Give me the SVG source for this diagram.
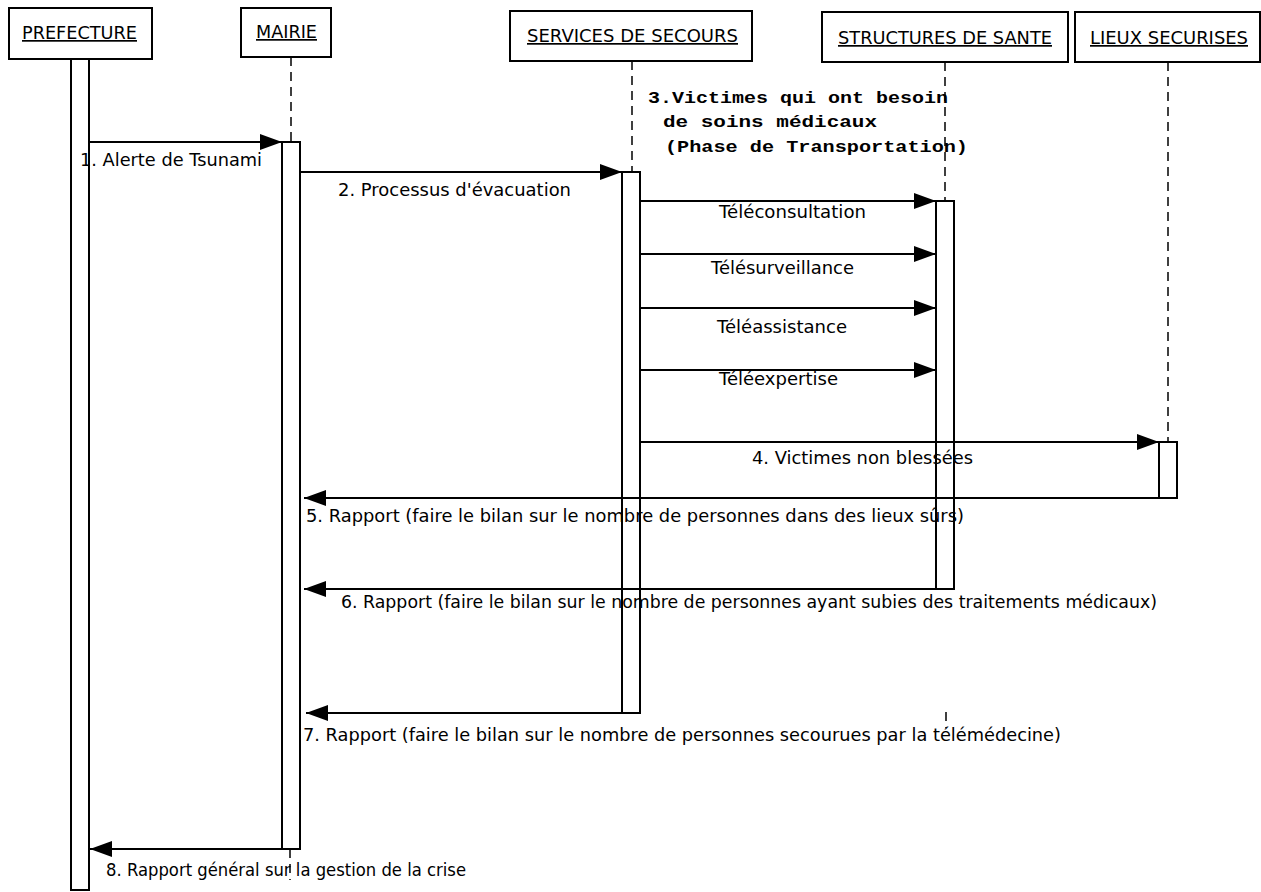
<svg xmlns="http://www.w3.org/2000/svg" width="1261" height="892" viewBox="0 0 1261 892">
<style>
.box{fill:#fff;stroke:#000;stroke-width:2}
.bar{fill:#fff;stroke:#000;stroke-width:2}
.life{stroke:#000;stroke-width:1.5;stroke-dasharray:9,6;fill:none}
.msg{stroke:#000;stroke-width:2;fill:none}
.hd{font-family:"DejaVu Sans",sans-serif;font-size:17px;fill:#000;text-decoration:underline}
.lb{font-family:"DejaVu Sans",sans-serif;font-size:17px;fill:#000}
.nt{font-family:"Liberation Mono",monospace;font-size:16px;font-weight:bold;fill:#000}
</style>
<defs>
<marker id="ah" viewBox="0 0 22 16" refX="22" refY="8" markerWidth="22" markerHeight="16" markerUnits="userSpaceOnUse" orient="auto">
<path d="M0,0 L22,8 L0,16 Z" fill="#000"/>
</marker>
</defs>
<g id="prefecture">
<rect class="box" x="9" y="8" width="143" height="51"/>
<text class="hd" x="22" y="39" textLength="115" lengthAdjust="spacingAndGlyphs">PREFECTURE</text>
<rect class="bar" x="71" y="59" width="18" height="831"/>
</g>
<g id="mairie">
<rect class="box" x="241" y="8" width="90" height="49"/>
<text class="hd" x="256" y="38" textLength="61" lengthAdjust="spacingAndGlyphs">MAIRIE</text>
<line class="life" x1="291" y1="57" x2="291" y2="142"/>
<rect class="bar" x="282" y="142" width="18" height="707"/>
<line class="life" x1="290" y1="849" x2="290" y2="880"/>
</g>
<g id="secours">
<rect class="box" x="510" y="11" width="242" height="50"/>
<text class="hd" x="527" y="42" textLength="211" lengthAdjust="spacingAndGlyphs">SERVICES DE SECOURS</text>
<line class="life" x1="632" y1="61" x2="632" y2="172"/>
<rect class="bar" x="622" y="172" width="18" height="541"/>
</g>
<g id="sante">
<rect class="box" x="822" y="12" width="246" height="50"/>
<text class="hd" x="838" y="44" textLength="214" lengthAdjust="spacingAndGlyphs">STRUCTURES DE SANTE</text>
<line class="life" x1="945" y1="62" x2="945" y2="201"/>
<rect class="bar" x="936" y="201" width="18" height="388"/>
<line class="life" x1="946" y1="712" x2="946" y2="728"/>
</g>
<g id="lieux">
<rect class="box" x="1075" y="12" width="185" height="50"/>
<text class="hd" x="1090" y="44" textLength="158" lengthAdjust="spacingAndGlyphs">LIEUX SECURISES</text>
<line class="life" x1="1168" y1="62" x2="1168" y2="442"/>
<rect class="bar" x="1159" y="442" width="18" height="56"/>
</g>
<g id="connectors">
<line class="msg" x1="89" y1="142" x2="282" y2="142" marker-end="url(#ah)"/>
<line class="msg" x1="300" y1="172" x2="622" y2="172" marker-end="url(#ah)"/>
<line class="msg" x1="640" y1="201" x2="936" y2="201" marker-end="url(#ah)"/>
<line class="msg" x1="640" y1="254" x2="936" y2="254" marker-end="url(#ah)"/>
<line class="msg" x1="640" y1="308" x2="936" y2="308" marker-end="url(#ah)"/>
<line class="msg" x1="640" y1="370" x2="936" y2="370" marker-end="url(#ah)"/>
<line class="msg" x1="640" y1="442" x2="1159" y2="442" marker-end="url(#ah)"/>
<line class="msg" x1="1159" y1="498" x2="304" y2="498" marker-end="url(#ah)"/>
<line class="msg" x1="936" y1="589" x2="304" y2="589" marker-end="url(#ah)"/>
<line class="msg" x1="622" y1="713" x2="306" y2="713" marker-end="url(#ah)"/>
<line class="msg" x1="282" y1="849" x2="90" y2="849" marker-end="url(#ah)"/>
</g>
<g id="labels">
<text class="lb" x="80" y="166" textLength="182" lengthAdjust="spacingAndGlyphs">1. Alerte de Tsunami</text>
<text class="lb" x="338" y="196" textLength="233" lengthAdjust="spacingAndGlyphs">2. Processus d'évacuation</text>
<text class="nt" x="648" y="103" textLength="300" lengthAdjust="spacingAndGlyphs">3.Victimes qui ont besoin</text>
<text class="nt" x="663" y="127" textLength="214" lengthAdjust="spacingAndGlyphs">de soins médicaux</text>
<text class="nt" x="665" y="152" textLength="303" lengthAdjust="spacingAndGlyphs">(Phase de Transportation)</text>
<text class="lb" x="719" y="218" textLength="147" lengthAdjust="spacingAndGlyphs">Téléconsultation</text>
<text class="lb" x="711" y="274" textLength="143" lengthAdjust="spacingAndGlyphs">Télésurveillance</text>
<text class="lb" x="717" y="333" textLength="130" lengthAdjust="spacingAndGlyphs">Téléassistance</text>
<text class="lb" x="719" y="385" textLength="119" lengthAdjust="spacingAndGlyphs">Téléexpertise</text>
<text class="lb" x="752" y="464" textLength="221" lengthAdjust="spacingAndGlyphs">4. Victimes non blessées</text>
<text class="lb" x="306" y="522" textLength="658" lengthAdjust="spacingAndGlyphs">5. Rapport (faire le bilan sur le nombre de personnes dans des lieux sûrs)</text>
<text class="lb" x="341" y="608" textLength="816" lengthAdjust="spacingAndGlyphs">6. Rapport (faire le bilan sur le nombre de personnes ayant subies des traitements médicaux)</text>
<text class="lb" x="303" y="741" textLength="758" lengthAdjust="spacingAndGlyphs">7. Rapport (faire le bilan sur le nombre de personnes secourues par la télémédecine)</text>
<text class="lb" x="106" y="876" textLength="360" lengthAdjust="spacingAndGlyphs">8. Rapport général sur la gestion de la crise</text>
</g>
</svg>
